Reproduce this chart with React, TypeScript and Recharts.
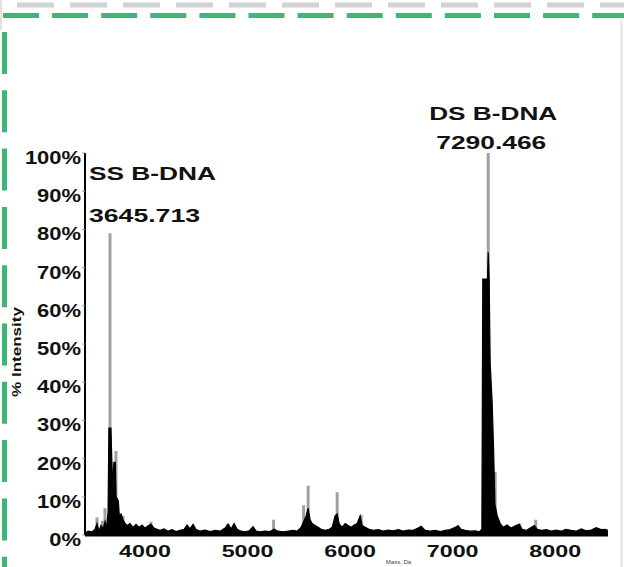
import {
  Area,
  ComposedChart,
  ReferenceDot,
  ReferenceLine,
  XAxis,
  YAxis,
} from "recharts";

const FONT = "'Liberation Sans', Arial, sans-serif";

const massTicks = [4000, 5000, 6000, 7000, 8000];
const intensityTicks = [0, 10, 20, 30, 40, 50, 60, 70, 80, 90, 100];

// black profile trace: mass (Da) and % intensity
const profileMass = [
  3415, 3444, 3483, 3513, 3532, 3552, 3571, 3591, 3610, 3625, 3640, 3648, 3668,
  3676, 3688, 3696, 3710, 3718, 3740, 3750, 3766, 3786, 3805, 3825, 3854, 3883,
  3913, 3942, 3971, 4000, 4030, 4059, 4088, 4117, 4147, 4186, 4225, 4264, 4303,
  4342, 4381, 4410, 4439, 4469, 4498, 4537, 4586, 4635, 4684, 4732, 4781, 4810,
  4840, 4869, 4898, 4937, 4976, 5015, 5054, 5083, 5122, 5171, 5220, 5259, 5298,
  5347, 5396, 5444, 5483, 5522, 5547, 5571, 5591, 5610, 5630, 5659, 5688, 5718,
  5757, 5796, 5825, 5854, 5874, 5893, 5922, 5952, 5981, 6010, 6039, 6069, 6098,
  6118, 6147, 6186, 6225, 6274, 6322, 6371, 6420, 6469, 6518, 6566, 6615, 6664,
  6693, 6732, 6781, 6830, 6879, 6927, 6976, 7025, 7054, 7083, 7122, 7171, 7220,
  7259, 7285, 7294, 7340, 7347, 7356, 7366, 7385, 7400, 7412, 7435, 7464, 7493,
  7532, 7571, 7610, 7649, 7678, 7717, 7756, 7796, 7825, 7864, 7913, 7962, 8010,
  8059, 8103, 8156, 8205, 8254, 8303, 8352, 8400, 8449, 8488, 8515,
];
const profileIntensity = [
  0.5, 1, 0.8, 1.5, 3, 1, 2.5, 1.5, 3.5, 2, 6, 28, 28,
  20, 12, 19, 19, 10, 9, 5, 5.5, 4, 3, 2.5, 3, 2,
  2.8, 2, 2.6, 1.8, 2.4, 2.8, 1.8, 1.5, 1.2, 1.6, 1, 1.4, 0.9,
  1.2, 1.5, 2.6, 1.6, 2.8, 1.4, 1, 1.3, 0.9, 1.2, 1, 1.8, 2.8,
  1.6, 3, 1.5, 1, 0.8, 1.1, 2.2, 1, 0.8, 1, 0.9, 1.5, 1,
  0.8, 1, 1.2, 1, 2, 3.5, 5, 7, 4, 3, 2.5, 2, 1.5,
  1.2, 1.5, 2, 5, 5.5, 3, 2, 3, 2.5, 2, 2.6, 3, 5,
  2.5, 2, 1.5, 1.2, 1.4, 1, 1.3, 1.1, 1.4, 1, 1.3, 1.2, 1.8,
  2.3, 1.2, 1, 1.2, 0.9, 1.2, 1.4, 2, 2.4, 1.5, 1.2, 1, 1.1,
  0.8, 1.5, 67, 67, 74, 67, 45, 35, 22, 8, 5, 3, 2,
  2.6, 1.8, 2.4, 2.8, 1.5, 1.2, 1.8, 2.5, 1.5, 1.2, 1.4, 1, 1.3,
  1, 1.5, 1.2, 1, 1.6, 1.1, 1.3, 1.9, 1.4, 1.5, 1.2,
];

// gray centroid sticks
const stickMass = [
  3532, 3586, 3610, 3659, 3717, 3786, 4059, 4810, 5254, 5547, 5591, 5874, 6108,
  7347, 7415, 7654, 7810,
];
const stickIntensity = [
  4.6, 3.7, 7, 79, 22, 5, 3.5, 3, 4, 7.8, 12.9, 11.2, 5.2, 100, 16.5, 3, 4,
];

const ssPeak = { mass: 3659, intensity: 79, name: "SS B-DNA", value: "3645.713" };
const dsPeak = { mass: 7347, intensity: 100, name: "DS B-DNA", value: "7290.466" };

const profile = profileMass.map((mass, i) => ({
  mass,
  intensity: profileIntensity[i],
}));

function YTick({ x, y, payload }: any) {
  return (
    <g transform={`translate(${x + 1},${y + 11}) scale(1.22,1)`}>
      <text textAnchor="end" fontSize={18} fontWeight={700} fill="#111" fontFamily={FONT}>
        {`${payload.value}%`}
      </text>
    </g>
  );
}

function XTick({ x, y, payload }: any) {
  return (
    <g transform={`translate(${x},${y + 22}) scale(1.37,1)`}>
      <text textAnchor="middle" fontSize={17} fontWeight={700} fill="#111" fontFamily={FONT}>
        {payload.value}
      </text>
    </g>
  );
}

function SsLabel({ viewBox }: any) {
  const { x, y } = viewBox;
  return (
    <g fontFamily={FONT} fontWeight={700} fontSize={18} fill="#111">
      <text x={x - 21} y={y - 53} textLength={127} lengthAdjust="spacingAndGlyphs">
        {ssPeak.name}
      </text>
      <text x={x - 21} y={y - 11} textLength={111} lengthAdjust="spacingAndGlyphs">
        {ssPeak.value}
      </text>
    </g>
  );
}

function DsLabel({ viewBox }: any) {
  const { x, y } = viewBox;
  return (
    <g fontFamily={FONT} fontWeight={700} fontSize={18} fill="#111" textAnchor="middle">
      <text x={x + 5} y={y - 33} textLength={128} lengthAdjust="spacingAndGlyphs">
        {dsPeak.name}
      </text>
      <text x={x + 3} y={y - 4} textLength={110} lengthAdjust="spacingAndGlyphs">
        {dsPeak.value}
      </text>
    </g>
  );
}

function Frame() {
  return (
    <svg width={624} height={567} style={{ position: "absolute", left: 0, top: 0 }}>
      <line x1={17} y1={5} x2={624} y2={5} stroke="#d2d2d2" strokeWidth={5} strokeDasharray="37 16" />
      <line x1={3} y1={15.5} x2={624} y2={15.5} stroke="#3db676" strokeWidth={5} strokeDasharray="36 13.1" />
      <line x1={4.5} y1={32} x2={4.5} y2={567} stroke="#3db676" strokeWidth={5} strokeDasharray="42 16.3" />
      <line x1={1} y1={0} x2={1} y2={30} stroke="#e2e2e2" strokeWidth={2} />
      <line x1={621.5} y1={20} x2={621.5} y2={567} stroke="#ececec" strokeWidth={3} />
    </svg>
  );
}

export default function App() {
  return (
    <div style={{ position: "fixed", left: 0, top: 0, width: 624, height: 567, background: "#fff", overflow: "hidden" }}>
      <Frame />
      <div style={{ position: "absolute", left: 0, top: 0 }}>
        <ComposedChart
          width={624}
          height={567}
          data={profile}
          margin={{ top: 153, right: 16, bottom: 0, left: 0 }}
        >
          <XAxis
            dataKey="mass"
            type="number"
            domain={[3415, 8515]}
            ticks={massTicks}
            allowDataOverflow
            height={32}
            axisLine={{ stroke: "#000", strokeWidth: 3 }}
            tickLine={false}
            tickSize={0}
            tickMargin={0}
            tick={<XTick />}
            label={({ viewBox }: any) => (
              <text
                x={viewBox.x + viewBox.width / 2 + 52}
                y={viewBox.y + 29}
                textAnchor="middle"
                fontSize={6}
                fill="#444"
                fontFamily={FONT}
              >
                Mass, Da
              </text>
            )}
          />
          <YAxis
            type="number"
            domain={[0, 100]}
            ticks={intensityTicks}
            width={85}
            axisLine={{ stroke: "#000", strokeWidth: 2 }}
            tickLine={{ stroke: "#999" }}
            tickSize={3}
            tickMargin={2}
            tick={<YTick />}
            label={({ viewBox }: any) => (
              <g transform={`translate(${viewBox.x + 21},${viewBox.y + viewBox.height / 2 + 8}) rotate(-90)`}>
                <text
                  textAnchor="middle"
                  fontSize={12}
                  fontWeight={700}
                  fill="#111"
                  fontFamily={FONT}
                  textLength={90}
                  lengthAdjust="spacingAndGlyphs"
                >
                  % Intensity
                </text>
              </g>
            )}
          />
          {stickMass.map((m, i) => (
            <ReferenceLine
              key={m}
              segment={[
                { x: m, y: 0 },
                { x: m, y: stickIntensity[i] },
              ]}
              stroke="#a0a0a0"
              strokeWidth={3}
              zIndex={50}
            />
          ))}
          <Area
            dataKey="intensity"
            type="linear"
            stroke="#000"
            strokeWidth={1.2}
            fill="#000"
            fillOpacity={1}
            dot={false}
            activeDot={false}
            isAnimationActive={false}
            zIndex={150}
          />
          <ReferenceDot
            x={ssPeak.mass}
            y={ssPeak.intensity}
            r={0}
            fill="none"
            stroke="none"
            label={<SsLabel />}
          />
          <ReferenceDot
            x={dsPeak.mass}
            y={dsPeak.intensity}
            r={0}
            fill="none"
            stroke="none"
            label={<DsLabel />}
          />
        </ComposedChart>
      </div>
    </div>
  );
}
